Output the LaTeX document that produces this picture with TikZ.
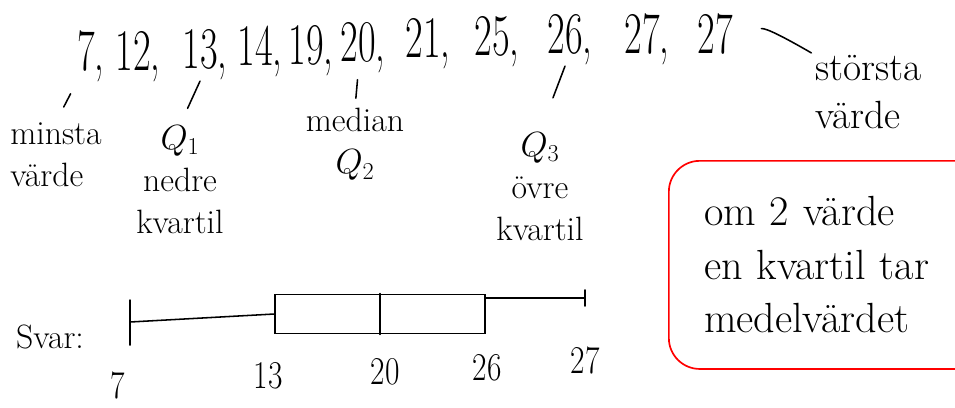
\documentclass[tikz,border=0pt]{standalone}
\usepackage{amsmath}
\usetikzlibrary{
		calc,
		positioning
	}
\tikzset{
		>=stealth,
		num/.style={font=\fontsize{42}{46}\selectfont, xscale=.65, inner sep=1pt, anchor=base},
		lbl/.style={font=\fontsize{24}{30}\selectfont, align=center, inner sep=0pt, anchor=north},
		val/.style={font=\fontsize{28}{32}\selectfont, xscale=.8, inner sep=0pt},
		note/.style={font=\fontsize{30}{38}\selectfont, align=left, draw=red, line width=1.2pt, rounded corners=22pt},
		tickline/.style={line width=1.1pt, line cap=round}
	}
\begin{document}
\begin{tikzpicture}[x=0.025cm, y=-0.025cm]
              \useasboundingbox (0,0) rectangle (955,408);

              % the sorted values
              \node[num] (d1) at (86,70) {7\rlap{,}};
              \node[num] (d2) at (133,70) {12\rlap{,}};
              \node[num] (d3) at (200,68) {13\rlap{,}};
              \node[num] (d4) at (255,65) {14\rlap{,}};
              \node[num] (d5) at (306,64) {19\rlap{,}};
              \node[num] (d6) at (358,61) {20\rlap{,}};
              \node[num] (d7) at (423,57) {21\rlap{,}};
              \node[num] (d8) at (492,55) {25\rlap{,}};
              \node[num] (d9) at (565,53) {26\rlap{,}};
              \node[num] (d10) at (642,53) {27\rlap{,}};
              \node[num] (d11) at (715,53) {27};

              % the texts under the values
              \node[lbl, align=left, anchor=north west] (minsta) at (10,122) {minsta\\värde};
              \node[lbl] (q1) at (180,125) {$Q_1$\\nedre\\kvartil};
              \node[lbl] (median) at (355,108) {median\\$Q_2$};
              \node[lbl] (q3) at (540,132) {$Q_3$\\övre\\kvartil};
              \node[lbl, align=left, anchor=north west, font=\fontsize{28}{34}\selectfont] (storsta) at (815,55) {största\\värde};

              % the ticks from the values to the texts
              \draw[tickline, shorten <=8.5pt, shorten >=12pt] (d1.south west) -- (minsta.north);
              \draw[tickline, shorten >=13pt] (d3.south) -- (q1.north);
              \draw[tickline, shorten <=4pt, shorten >=7pt] (d6.south) -- (median.north);
              \draw[tickline, shorten >=26pt] (d9.south) -- (q3.north);
              \draw[tickline, shorten <=20pt, shorten >=3pt] (d11.east) to[out=10,in=150] (storsta.north west);

              % the box plot
              \node[lbl, anchor=center] (svar) at (50,337) {Svar:};
              \coordinate (lo) at (130,322);
              \coordinate (hi) at (585,298);
              \node[draw, line width=1.1pt, minimum width=149pt, minimum height=28pt, inner sep=0pt] (box) at (380,314) {};
              \draw[tickline] (box.north) -- (box.south);
              \draw[tickline] (lo) -- (box.west);
              \draw[tickline] (box.east |- hi) -- (hi);
              \draw[tickline] ([yshift=15.6pt]lo) -- ([yshift=-16.4pt]lo);
              \draw[tickline] ([yshift=5.7pt]hi) -- ([yshift=-5.7pt]hi);

              % the values under the box plot
              \node[val] (v7) at (118,385) {7};
              \node[val] (v13) at (268,376) {13};
              \node[val] (v20) at (385,372) {20};
              \node[val] (v26) at (487,368) {26};
              \node[val] (v27) at (585,360) {27};

              % the note
              \node[note, anchor=north west, text width=185pt, inner xsep=25pt, minimum height=148pt] (tips) at (668,160)
                {om 2 värde\\en kvartil tar\\medelvärdet};

          \end{tikzpicture}
\end{document}
